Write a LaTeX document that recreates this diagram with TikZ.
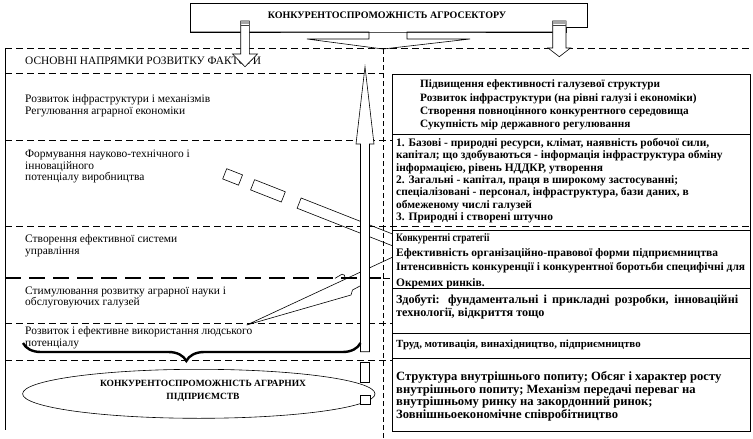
\documentclass[tikz,border=0pt]{standalone}
\usepackage{fontspec}
\setmainfont{Liberation Serif}
\usetikzlibrary{decorations.pathreplacing,shapes.geometric}

\begin{document}
\begin{tikzpicture}[x=1pt,y=-1pt,
  thindash/.style={line width=0.6pt, dash pattern=on 7pt off 4pt},
  bolddash/.style={line width=2.2pt, dash pattern=on 16pt off 8pt},
  vdash/.style={line width=0.6pt, dash pattern=on 5pt off 3pt},
  outline/.style={line width=0.6pt},
  blockarrow/.style={outline, fill=white, line join=miter},
  lefttext/.style={anchor=north west, inner sep=0pt, align=left, font=\fontsize{11.45}{11.7}\selectfont},
  righttext/.style={anchor=north west, inner sep=0pt, align=left},
]
\useasboundingbox (0,0) rectangle (753,439);

% ---- frame of the left column and row separators
\draw[thindash] (5,48.5) -- (753,48.5);
\draw[outline] (5,48.5) -- (5,430);
\draw[thindash] (5,73) -- (383,73);
\draw[thindash] (5,140) -- (392,140);
\draw[thindash] (5,323) -- (392,323);
\draw[thindash] (5,360) -- (392,360);
\draw[bolddash] (5,278) -- (383,278);
\draw[thindash] (383,278) -- (392,278);
\draw[vdash] (383,49) -- (383,439);

% ---- left column texts
\node (hdr) [anchor=base west, inner sep=0pt, font=\fontsize{11.35}{12}\selectfont] at (25,64.8) {ОСНОВНІ НАПРЯМКИ РОЗВИТКУ ФАКТОРИ};
\node (lrow1) [lefttext, font=\fontsize{11.45}{11.3}\selectfont] at (25,94.8) {Розвиток інфраструктури і механізмів\\Регулювання аграрної економіки};
\node (lrow2) [lefttext] at (25,149.8) {Формування науково-технічного і\\інноваційного\\потенціалу виробництва};
\node (lrow3) [lefttext] at (25,234.8) {Створення ефективної системи\\управління};
\node (lrow4) [lefttext] at (25,286.5) {Стимулювання розвитку аграрної науки і\\обслуговуючих галузей};
\node (lrow5) [lefttext] at (25,326.5) {Розвиток і ефективне використання людського\\потенціалу};

% ---- wide dashed pointer
\begin{scope}[shift={(224.7,173.8)}, rotate=-21.5]
  \draw[outline] (0,-5.5) rectangle (17,5.5);
  \draw[outline] (30,-5.5) rectangle (63,5.5);
  \draw[outline] (190,-5.5) -- (80,-5.5) -- (80,5.5) -- (190,5.5);
\end{scope}

% ---- pointer wedge to the human potential row
\coordinate (wtip) at (246.7,325);
\coordinate (wa) at (400,253.7);
\coordinate (wb) at (360,286);
\draw[outline] (wa) -- (wtip) -- (351,295) -- (352.5,290) -- (wb);
\draw[outline] (335,278.3) -- (342,274.2) -- (344.5,275.2) -- (345,278.3);

% ---- right column box
\draw[outline, fill=white] (392,74) rectangle (750,431.7);
\draw[outline] (392,134) -- (750,134);
\draw[outline] (392,230) -- (750,230);
\draw[outline] (392,288) -- (750,288);
\draw[outline] (392,333.3) -- (750,333.3);
\draw[outline] (392,358.5) -- (750,358.5);
\draw[thindash] (5,226) -- (753,226);

\node (rsec1) [righttext, font=\fontsize{11.25}{13.3}\selectfont\bfseries] at (420,79.9) {Підвищення ефективності галузевої структури\\Розвиток інфраструктури (на рівні галузі і економіки)\\Створення повноцінного конкурентного середовища\\Сукупність мір державного регулювання};
\node (rsec2) [righttext, font=\fontsize{11.45}{12.33}\selectfont\bfseries] at (396,138.1) {1. Базові - природні ресурси, клімат, наявність робочої сили,\\капітал; що здобуваються - інформація інфраструктура обміну\\інформацією, рівень НДДКР, утворення\\2. Загальні - капітал, праця в широкому застосуванні;\\спеціалізовані - персонал, інфраструктура, бази даних, в\\обмеженому числі галузей\\3. Природні і створені штучно};
\node (rsec3) [righttext, font=\fontsize{11.48}{14.3}\selectfont\bfseries] at (396,233.8) {\scalebox{0.82}[1]{Конкурентні стратегії}\\Ефективність організаційно-правової форми підприємництва\\Інтенсивність конкуренції і конкурентної боротьби специфічні для\\[1.4pt]Окремих ринків.};
\node (rsec4) [righttext, font=\fontsize{12.2}{13.3}\selectfont\bfseries] at (396,294.4) {\makebox[342pt][s]{Здобуті: фундаментальні і прикладні розробки, інноваційні}\\технології, відкриття тощо};
\node (rsec5) [righttext, font=\fontsize{10.9}{13}\selectfont\bfseries] at (396,340) {Труд, мотивація, винахідництво, підприємництво};
\node (rsec6) [righttext, font=\fontsize{12.6}{12.8}\selectfont\bfseries] at (396,371) {Структура внутрішнього попиту; Обсяг і характер росту\\внутрішнього попиту; Механізм передачі переваг на\\внутрішньому ринку на закордонний ринок;\\Зовнішньоекономічне співробітництво};

% ---- long upward arrow
\draw[blockarrow] (360.5,351.7) -- (360.5,144) -- (356,144) -- (365,66.7) -- (374,144) -- (369.5,144) -- (369.5,351.7) -- cycle;

% ---- headline callout
\draw[outline, fill=white] (190,32) -- (190,3) -- (587,3) -- (587,27) -- (566,27) -- (566,32) -- (407,32) -- (369,32) -- cycle;
\draw[outline] (190,32) -- (369,32) -- (369,39) -- (307,39) -- (383,49) -- (470,39) -- (407,39) -- (407,32) -- (553,32);
\node (title) [font=\fontsize{10}{11}\selectfont\bfseries, inner sep=0pt] at (387,15) {КОНКУРЕНТОСПРОМОЖНІСТЬ АГРОСЕКТОРУ};

% ---- downward block arrows
\draw[blockarrow] (240.7,21) -- (249.3,21) -- (249.3,54) -- (257.5,54) -- (245,66.7) -- (232.5,54) -- (240.7,54) -- cycle;
\fill[gray!70] (241,21.3) rectangle (249,23.5);
\draw[line width=0.6pt, gray!50!black] (241,25) -- (249,25);
\draw[blockarrow] (552.7,21) -- (566,21) -- (566,48) -- (570.5,48) -- (559.3,56.7) -- (548,48) -- (552.7,48) -- cycle;
\fill[gray!70] (553,21.3) rectangle (565.7,23.5);
\draw[line width=0.6pt, gray!50!black] (553,25) -- (565.7,25);

% ---- result ellipse with the bracket above it
\node (result) [draw, outline, ellipse, minimum width=352.4pt, minimum height=49pt, inner sep=0pt] at (198.8,393.8) {};
\node (restext) [font=\fontsize{9.5}{13}\selectfont\bfseries, align=center, inner sep=0pt] at (203,390.5) {КОНКУРЕНТОСПРОМОЖНІСТЬ АГРАРНИХ\\ПІДПРИЄМСТВ};
\draw[line width=2.4pt, decorate, decoration={brace, mirror, amplitude=18pt, aspect=0.484}] (23,343) -- (360.5,343);
\draw[outline, fill=white] (360.5,362.7) rectangle (369.5,382.7);
\draw[outline, fill=white] (360.5,395) rectangle (370,404.5);

\end{tikzpicture}
\end{document}
